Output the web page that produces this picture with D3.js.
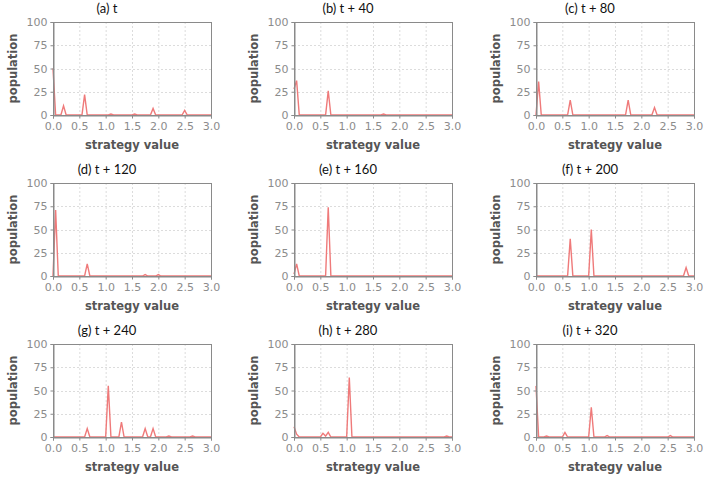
<!DOCTYPE html>
<html>
<head>
<meta charset="utf-8">
<script src="https://cdn.jsdelivr.net/npm/d3@7"></script>
<style>
body { margin: 0; background: #fff; }
.tick-label { font-family: "DejaVu Sans", Verdana, sans-serif; font-size: 11px; fill: #8c8c8c; }
.axis-label { font-family: "DejaVu Sans", Verdana, sans-serif; font-size: 11.5px; font-weight: bold; fill: #555; }
.panel-title { font-family: Lato, "Open Sans", sans-serif; font-size: 13px; fill: #111; }
</style>
</head>
<body>
<div id="chart"></div>
<script>
// panel titles
var titles = ["(a) t", "(b) t + 40", "(c) t + 80",
              "(d) t + 120", "(e) t + 160", "(f) t + 200",
              "(g) t + 240", "(h) t + 280", "(i) t + 320"];

var xTicks = [0, 0.5, 1, 1.5, 2, 2.5, 3];
var yTicks = [0, 25, 50, 75, 100];

// [strategy value, population]
var popA = [[0,50],[0.05,0],[0.15,0],[0.2,10],[0.25,0],[0.55,0],[0.6,22],[0.65,0],[1.05,0],[1.1,1],[1.15,0],
            [1.5,0],[1.55,1],[1.6,0],[1.85,0],[1.9,7],[1.95,0],[2.45,0],[2.5,5],[2.55,0],[3,0]];
var popB = [[0,28],[0.05,37],[0.1,0],[0.6,0],[0.65,26],[0.7,0],[1.65,0],[1.7,1],[1.75,0],[3,0]];
var popC = [[0,0],[0.05,36],[0.1,0],[0.6,0],[0.65,16],[0.7,0],[1.7,0],[1.75,16],[1.8,0],
            [2.2,0],[2.25,8],[2.3,0],[3,0]];
var popD = [[0,0],[0.05,71],[0.1,0],[0.6,0],[0.65,13],[0.7,0],[1.7,0],[1.75,1.5],[1.8,0],
            [1.95,0],[2,1.5],[2.05,0],[3,0]];
var popE = [[0,2],[0.05,13],[0.1,0],[0.6,0],[0.65,74],[0.7,0],[3,0]];
var popF = [[0,0],[0.6,0],[0.65,40],[0.7,0],[1,0],[1.05,50],[1.1,0],[2.8,0],[2.85,9],[2.9,0],[3,0]];
var popG = [[0,0],[0.6,0],[0.65,9],[0.7,0],[1,0],[1.05,55],[1.1,0],[1.25,0],[1.3,16],[1.35,0],
            [1.7,0],[1.75,9],[1.8,0],[1.85,0],[1.9,9],[1.95,0],[2.15,0],[2.2,1],[2.25,0],
            [2.6,0],[2.65,1],[2.7,0],[3,0]];
var popH = [[0,11],[0.05,3],[0.1,0],[0.5,0],[0.55,4],[0.6,1],[0.65,5],[0.7,0],[1,0],[1.05,64],[1.1,0],
            [2.85,0],[2.9,1],[2.95,0],[3,0]];
var popI = [[0,55],[0.05,0],[0.15,0],[0.2,1],[0.25,0],[0.5,0],[0.55,5],[0.6,0],[1,0],[1.05,32],[1.1,0],
            [1.3,0],[1.35,1.5],[1.4,0],[2.5,0],[2.55,1.5],[2.6,0],[3,0]];

var series = [popA, popB, popC, popD, popE, popF, popG, popH, popI];

var width = 705, height = 479;
var colLeft = [53, 294, 536];
var rowTop = [22, 183, 344];
var pw = 158, ph = 93;

var svg = d3.select("#chart").append("svg")
    .attr("width", width)
    .attr("height", height);

var x = d3.scaleLinear().domain([0, 3]).range([0, pw]);
var y = d3.scaleLinear().domain([0, 100]).range([ph, 0]);

var line = d3.line()
    .x(function (d) { return x(d[0]); })
    .y(function (d) { return y(d[1]); });

series.forEach(function (data, i) {
    var g = svg.append("g")
        .attr("transform", "translate(" + colLeft[i % 3] + "," + rowTop[Math.floor(i / 3)] + ")");

    // grid
    g.selectAll(".vgrid")
        .data(xTicks.slice(1, -1))
        .enter().append("line")
        .attr("x1", function (d) { return x(d) + 0.5; })
        .attr("x2", function (d) { return x(d) + 0.5; })
        .attr("y1", 0).attr("y2", ph)
        .attr("stroke", "#dcdcdc")
        .attr("stroke-dasharray", "2,2");
    g.selectAll(".hgrid")
        .data(yTicks.slice(1, -1))
        .enter().append("line")
        .attr("y1", function (d) { return Math.round(y(d)) + 0.5; })
        .attr("y2", function (d) { return Math.round(y(d)) + 0.5; })
        .attr("x1", 0).attr("x2", pw)
        .attr("stroke", "#dcdcdc")
        .attr("stroke-dasharray", "2,2");

    // data line
    g.append("path")
        .datum(data)
        .attr("d", line)
        .attr("fill", "none")
        .attr("stroke", "#ef7a7a")
        .attr("stroke-width", 1.4);

    // frame
    g.append("rect")
        .attr("x", 0.5).attr("y", 0.5)
        .attr("width", pw).attr("height", ph)
        .attr("fill", "none")
        .attr("stroke", "#8a8a8a");

    // x axis
    var xAxis = d3.axisBottom(x).tickValues(xTicks).tickSize(3).tickPadding(4)
        .tickFormat(d3.format(".1f"));
    var xa = g.append("g").attr("transform", "translate(0," + (ph + 0.5) + ")").call(xAxis);
    xa.select(".domain").attr("stroke", "#8a8a8a");
    xa.selectAll(".tick line").attr("stroke", "#8a8a8a");
    xa.selectAll("text").attr("class", "tick-label").attr("fill", null).attr("font-size", null).attr("font-family", null);

    // y axis
    var yAxis = d3.axisLeft(y).tickValues(yTicks).tickSize(3).tickPadding(3);
    var ya = g.append("g").attr("transform", "translate(0.5,0)").call(yAxis);
    ya.select(".domain").attr("stroke", "#8a8a8a");
    ya.selectAll(".tick line").attr("stroke", "#8a8a8a");
    ya.selectAll("text").attr("class", "tick-label").attr("fill", null).attr("font-size", null).attr("font-family", null);

    // labels
    g.append("text")
        .attr("class", "axis-label")
        .attr("x", pw / 2)
        .attr("y", ph + 34)
        .attr("text-anchor", "middle")
        .text("strategy value");
    g.append("text")
        .attr("class", "axis-label")
        .attr("transform", "translate(-36," + (ph / 2) + ") rotate(-90)")
        .attr("text-anchor", "middle")
        .text("population");

    g.append("text")
        .attr("class", "panel-title")
        .attr("x", 54)
        .attr("y", -9)
        .attr("text-anchor", "middle")
        .text(titles[i]);
});
</script>
</body>
</html>
